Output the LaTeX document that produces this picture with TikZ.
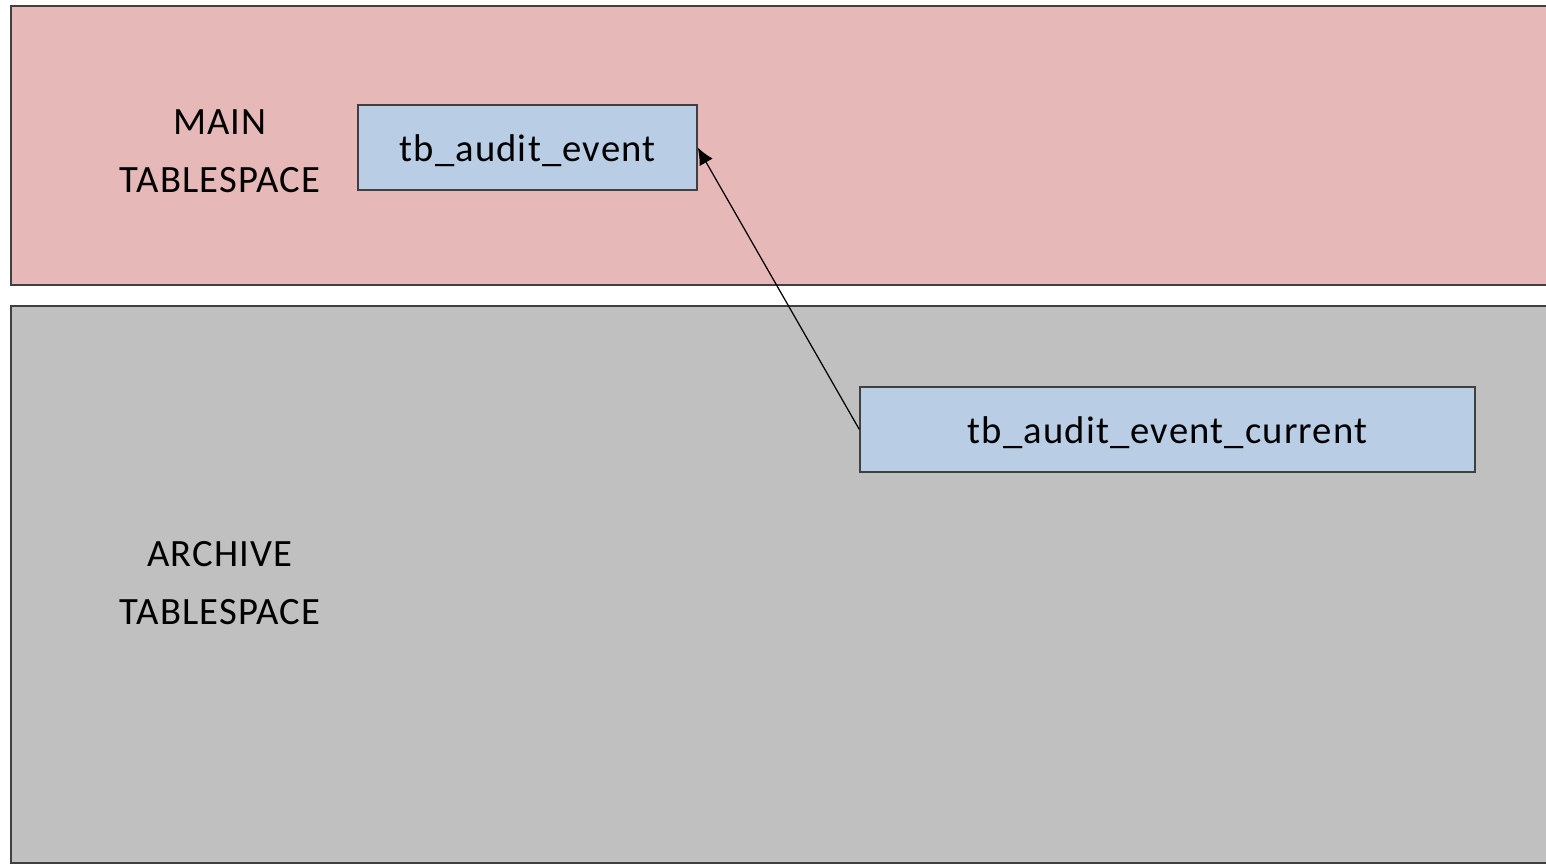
\documentclass[tikz,border=0pt]{standalone}
\usepackage{fontspec}
\setmainfont{Carlito}[LetterSpace=3]
\usetikzlibrary{shapes,positioning,arrows.meta}
\definecolor{mainfill}{HTML}{E6B8B7}
\definecolor{archfill}{HTML}{C0C0C0}
\definecolor{tabfill}{HTML}{B9CDE5}
\definecolor{edge}{HTML}{404040}
\tikzstyle{band} = [draw=edge,line width=0.8pt]
\tikzstyle{rec} = [rectangle,draw=edge,line width=0.8pt,fill=tabfill,text centered,text height=18pt,text depth=2.4pt,font=\fontsize{22}{26}\selectfont]
\tikzstyle{space} = [align=center,font=\fontsize{22}{33}\selectfont]

\begin{document}
\begin{tikzpicture}[x=0.02cm,y=-0.02cm]
    	\useasboundingbox (0,0) rectangle (1546,865);
    	\clip (0,0) rectangle (1546,865);
    	
    	% the two tablespaces
    	\filldraw[band,fill=mainfill] (11,6) rectangle (1560,285);
    	\filldraw[band,fill=archfill] (11,306) rectangle (1560,863);
    	
    	\node[space](main) at (220,151) {MAIN\\TABLESPACE};
    	\node[space](archive) at (220,583) {ARCHIVE\\TABLESPACE};
    	
    	% tables
    	\node[rec,minimum width=6.78cm,minimum height=1.7cm](event) at (527.5,147.5) {tb\_audit\_event};
    	\node[rec,minimum width=12.3cm,minimum height=1.7cm](current) at (1167.5,429.5) {tb\_audit\_event\_current};
    	
    	\draw[-{Latex[length=0.34cm,width=0.3cm]},line width=0.7pt] (current.west) -- (event.east);
    	
    	\end{tikzpicture}
\end{document}
